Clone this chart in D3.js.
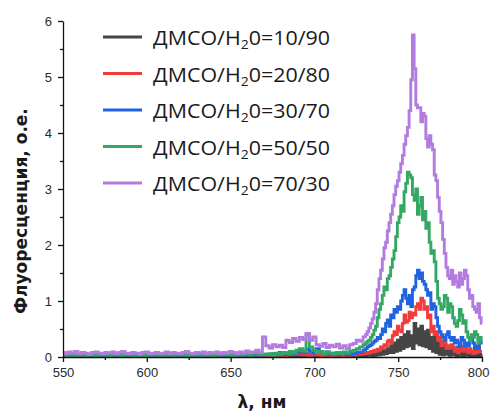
<!DOCTYPE html>
<html>
<head>
<meta charset="utf-8">
<script src="https://cdn.jsdelivr.net/npm/d3@7"></script>
<style>
  html, body { margin: 0; padding: 0; background: #fff; }
  svg { display: block; }
</style>
</head>
<body>
<svg id="chart" width="490" height="412"></svg>
<script>
// ---------- DATA ----------
const wavelengths = [
  550,552,554,556,558,560,562,564,566,568,
  570,572,574,576,578,580,582,584,586,588,
  590,592,594,596,598,600,602,604,606,608,
  610,612,614,616,618,620,622,624,626,628,
  630,632,634,636,638,640,642,644,646,648,
  650,652,654,656,658,660,662,664,666,668,
  670,672,674,676,678,680,682,684,686,688,
  690,692,694,696,698,700,702,704,706,708,
  710,712,714,716,718,720,722,724,726,728,
  730,
  731,732,733,734,735,736,737,738,739,740,
  741,742,743,744,745,746,747,748,749,750,
  751,752,753,754,755,756,757,758,759,760,
  761,762,763,764,765,766,767,768,769,770,
  771,772,773,774,775,776,777,778,779,780,
  781,782,783,784,785,786,787,788,789,790,
  791,792,793,794,795,796,797,798,799,800
];

const seriesNames = ["10/90", "20/80", "30/70", "50/50", "70/30"];

const dmso10 = [
  0.01,0.02,0.03,0.01,0.02,0.01,0.03,0.02,0.01,0.02,
  0.03,0.01,0.02,0.02,0.01,0.03,0.02,0.01,0.02,0.03,
  0.01,0.02,0.01,0.03,0.02,0.01,0.02,0.03,0.01,0.02,
  0.02,0.01,0.03,0.02,0.01,0.02,0.01,0.03,0.02,0.01,
  0.03,0.02,0.01,0.02,0.03,0.01,0.02,0.01,0.03,0.02,
  0.01,0.02,0.03,0.01,0.02,0.03,0.01,0.02,0.01,0.03,
  0.02,0.01,0.03,0.02,0.01,0.03,0.02,0.04,0.02,0.03,
  0.01,0.03,0.02,0.04,0.02,0.01,0.03,0.02,0.01,0.02,
  0.03,0.01,0.02,0.03,0.02,0.01,0.03,0.02,0.04,0.02,
  0.03,
  0.02,0.04,0.03,0.05,0.02,0.06,0.03,0.08,0.04,0.10,
  0.05,0.12,0.06,0.15,0.08,0.20,0.08,0.25,0.10,0.30,
  0.12,0.35,0.15,0.40,0.18,0.45,0.20,0.38,0.15,0.60,
  0.25,0.50,0.22,0.55,0.20,0.45,0.18,0.48,0.15,0.35,
  0.10,0.38,0.08,0.30,0.05,0.25,0.04,0.22,0.05,0.18,
  0.03,0.20,0.04,0.15,0.02,0.18,0.03,0.12,0.02,0.15,
  0.03,0.10,0.02,0.08,0.01,0.10,0.02,0.06,0.01,0.05
];

const dmso20 = [
  0.02,0.03,0.01,0.02,0.04,0.02,0.01,0.03,0.02,0.01,
  0.03,0.02,0.04,0.01,0.02,0.03,0.01,0.02,0.04,0.02,
  0.01,0.03,0.02,0.01,0.02,0.04,0.02,0.03,0.01,0.02,
  0.04,0.02,0.01,0.03,0.02,0.01,0.03,0.02,0.04,0.01,
  0.02,0.03,0.01,0.02,0.05,0.02,0.03,0.01,0.02,0.03,
  0.01,0.04,0.02,0.03,0.01,0.02,0.08,0.03,0.02,0.04,
  0.02,0.03,0.01,0.04,0.02,0.05,0.03,0.06,0.04,0.08,
  0.05,0.07,0.04,0.06,0.03,0.05,0.04,0.02,0.03,0.05,
  0.02,0.04,0.03,0.02,0.04,0.03,0.05,0.04,0.06,0.05,
  0.07,
  0.06,0.08,0.07,0.10,0.09,0.12,0.10,0.14,0.12,0.18,
  0.15,0.22,0.20,0.28,0.30,0.25,0.38,0.45,0.40,0.55,
  0.48,0.45,0.60,0.75,0.62,0.65,0.80,0.70,0.78,0.75,
  0.90,0.95,0.85,1.05,1.00,0.85,0.90,0.70,0.75,0.45,
  0.55,0.40,0.45,0.30,0.35,0.20,0.28,0.25,0.15,0.20,
  0.15,0.22,0.18,0.10,0.15,0.08,0.12,0.18,0.10,0.20,
  0.12,0.08,0.15,0.10,0.06,0.12,0.08,0.15,0.10,0.10
];

const dmso30 = [
  0.04,0.03,0.05,0.02,0.03,0.04,0.06,0.03,0.02,0.04,
  0.03,0.05,0.02,0.04,0.03,0.06,0.02,0.03,0.04,0.02,
  0.05,0.03,0.02,0.04,0.06,0.03,0.02,0.04,0.03,0.05,
  0.02,0.03,0.04,0.06,0.02,0.03,0.05,0.03,0.02,0.04,
  0.05,0.02,0.04,0.03,0.06,0.03,0.02,0.05,0.03,0.04,
  0.02,0.05,0.03,0.04,0.02,0.05,0.04,0.03,0.06,0.04,
  0.03,0.05,0.04,0.06,0.04,0.08,0.05,0.07,0.10,0.06,
  0.09,0.12,0.08,0.14,0.10,0.07,0.15,0.08,0.06,0.09,
  0.05,0.07,0.04,0.06,0.08,0.05,0.07,0.06,0.09,0.08,
  0.12,
  0.15,0.18,0.20,0.22,0.25,0.28,0.30,0.35,0.33,0.40,
  0.50,0.45,0.60,0.66,0.55,0.75,0.70,0.85,0.80,0.90,
  0.85,1.00,1.10,1.20,1.05,0.95,1.10,0.90,1.20,1.25,
  1.45,1.55,1.40,1.50,1.35,1.30,1.20,1.10,1.15,0.85,
  0.95,0.90,0.70,0.55,0.45,0.40,0.35,0.30,0.40,0.45,
  0.35,0.30,0.35,0.25,0.30,0.25,0.20,0.35,0.30,0.20,
  0.25,0.20,0.30,0.35,0.25,0.15,0.20,0.15,0.25,0.30
];

const dmso50 = [
  0.03,0.02,0.04,0.03,0.02,0.05,0.03,0.02,0.04,0.03,
  0.02,0.04,0.03,0.05,0.02,0.03,0.04,0.02,0.03,0.05,
  0.03,0.02,0.04,0.03,0.02,0.03,0.05,0.02,0.04,0.03,
  0.02,0.04,0.03,0.02,0.05,0.03,0.04,0.02,0.03,0.04,
  0.03,0.05,0.02,0.04,0.03,0.02,0.04,0.03,0.05,0.03,
  0.04,0.02,0.05,0.03,0.04,0.06,0.03,0.08,0.05,0.04,
  0.05,0.04,0.06,0.03,0.07,0.05,0.08,0.06,0.10,0.07,
  0.12,0.15,0.10,0.40,0.18,0.12,0.08,0.10,0.06,0.09,
  0.07,0.05,0.08,0.06,0.09,0.07,0.10,0.12,0.15,0.18,
  0.22,
  0.25,0.28,0.30,0.35,0.40,0.48,0.55,0.70,0.85,0.95,
  1.10,1.25,1.20,1.40,1.45,1.60,1.75,1.90,2.15,2.40,
  2.50,2.70,2.60,2.95,3.10,3.30,3.25,3.20,2.90,2.80,
  3.00,2.55,2.70,2.85,2.45,2.60,2.30,2.40,2.05,1.85,
  1.90,1.70,1.35,1.05,0.95,0.85,0.90,1.10,1.05,0.80,
  0.95,0.90,0.70,0.60,0.55,0.65,0.85,0.75,0.60,0.65,
  0.45,0.35,0.30,0.40,0.35,0.45,0.40,0.25,0.35,0.30
];

const dmso70 = [
  0.08,0.06,0.09,0.07,0.10,0.06,0.08,0.07,0.05,0.08,
  0.09,0.07,0.06,0.08,0.07,0.09,0.06,0.08,0.10,0.07,
  0.06,0.08,0.07,0.05,0.08,0.09,0.06,0.07,0.08,0.06,
  0.07,0.09,0.06,0.08,0.07,0.06,0.08,0.10,0.07,0.06,
  0.08,0.07,0.09,0.06,0.08,0.07,0.09,0.06,0.08,0.07,
  0.10,0.08,0.06,0.09,0.07,0.11,0.08,0.09,0.12,0.08,
  0.36,0.20,0.16,0.22,0.18,0.21,0.17,0.30,0.26,0.33,
  0.28,0.35,0.31,0.42,0.30,0.36,0.22,0.19,0.24,0.17,
  0.21,0.18,0.23,0.16,0.20,0.15,0.22,0.24,0.30,0.28,
  0.36,
  0.40,0.45,0.52,0.60,0.68,0.80,0.95,1.20,1.40,1.55,
  1.75,1.95,2.05,2.25,2.40,2.55,2.70,2.90,3.05,3.15,
  3.30,3.45,3.60,3.80,3.95,4.10,4.40,4.95,5.75,5.15,
  4.50,4.45,4.45,4.20,4.35,4.30,3.90,3.75,3.95,3.80,
  3.70,3.25,3.15,2.85,2.60,2.40,2.10,1.85,1.60,1.45,
  1.40,1.55,1.30,1.45,1.35,1.25,1.50,1.30,1.40,1.55,
  1.45,1.20,1.05,1.10,0.90,0.85,0.80,0.95,0.70,0.60
];

const seriesValues = [dmso10, dmso20, dmso30, dmso50, dmso70];
const seriesColors = ["#454545", "#f03c3c", "#1f62e2", "#33a862", "#b27be0"];

const xMajorTicks = [550, 600, 650, 700, 750, 800];
const xMinorTicks = [575, 625, 675, 725, 775];
const yMajorTicks = [0, 1, 2, 3, 4, 5, 6];
const yMinorTicks = [0.5, 1.5, 2.5, 3.5, 4.5, 5.5];

const xTitle = "λ, нм";
const yTitle = "Флуоресценция, о.е.";

// ---------- CHART ----------
const svg = d3.select("#chart");
const x = d3.scaleLinear().domain([550, 800]).range([63, 482]);
const y = d3.scaleLinear().domain([0, 6]).range([357, 21]);

const tickFont = "'Liberation Sans', Arial, sans-serif";

// lines
const line = d3.line()
  .x((d, i) => x(wavelengths[i]))
  .y(d => y(d))
  .curve(d3.curveStep);

const plot = svg.append("g");
seriesValues.forEach((vals, k) => {
  plot.append("path")
    .datum(vals)
    .attr("fill", "none")
    .attr("stroke", seriesColors[k])
    .attr("stroke-width", 2.9)
    .attr("stroke-linejoin", "miter")
    .attr("d", line);
});

// axes
const gx = svg.append("g").attr("transform", `translate(0,${y(0)})`);
gx.call(d3.axisBottom(x).tickValues(xMajorTicks).tickSize(5).tickSizeOuter(0).tickPadding(6).tickFormat(d3.format("d")));
const gxm = svg.append("g").attr("transform", `translate(0,${y(0)})`);
gxm.call(d3.axisBottom(x).tickValues(xMinorTicks).tickSize(3).tickSizeOuter(0).tickFormat(""));
gxm.select(".domain").remove();

const gy = svg.append("g").attr("transform", `translate(${x(550)},0)`);
gy.call(d3.axisLeft(y).tickValues(yMajorTicks).tickSize(5).tickSizeOuter(0).tickPadding(6).tickFormat(d3.format("d")));
const gym = svg.append("g").attr("transform", `translate(${x(550)},0)`);
gym.call(d3.axisLeft(y).tickValues(yMinorTicks).tickSize(3).tickSizeOuter(0).tickFormat(""));
gym.select(".domain").remove();

[gx, gxm, gy, gym].forEach(g => {
  g.selectAll("path, line").attr("stroke", "#111").attr("stroke-width", 1.3);
  g.selectAll("text").attr("fill", "#2a2a2a").style("font-family", tickFont).style("font-size", "13px");
});
// keep the last x label inside the picture, as in the reference
gx.selectAll(".tick text").filter(d => d === 800).attr("text-anchor", "end").attr("x", 7);

// titles
svg.append("text")
  .attr("x", 262).attr("y", 408)
  .attr("text-anchor", "middle")
  .style("font-family", "'DejaVu Sans', sans-serif")
  .style("font-weight", "bold")
  .style("font-size", "17px")
  .attr("fill", "#1a1a1a")
  .text(xTitle);

svg.append("text")
  .attr("transform", "translate(27,211) rotate(-90)")
  .attr("text-anchor", "middle")
  .style("font-family", "'DejaVu Sans', sans-serif")
  .style("font-weight", "bold")
  .style("font-size", "17px")
  .attr("fill", "#1a1a1a")
  .text(yTitle);

// legend
const legend = svg.append("g");
seriesNames.forEach((name, k) => {
  const cy = 37 + k * 36.5;
  legend.append("line")
    .attr("x1", 103).attr("x2", 142)
    .attr("y1", cy).attr("y2", cy)
    .attr("stroke", seriesColors[k])
    .attr("stroke-width", 3);
  const t = legend.append("text")
    .attr("x", 153).attr("y", cy + 8)
    .attr("textLength", 177)
    .attr("lengthAdjust", "spacingAndGlyphs")
    .style("font-family", "'Open Sans', sans-serif")
    .style("font-size", "20px")
    .attr("fill", "#1a1a1a");
  t.append("tspan").text("ДМСО/Н");
  t.append("tspan").attr("dy", 4).style("font-size", "13px").text("2");
  t.append("tspan").attr("dy", -4).text("0=" + name);
});
</script>
</body>
</html>
